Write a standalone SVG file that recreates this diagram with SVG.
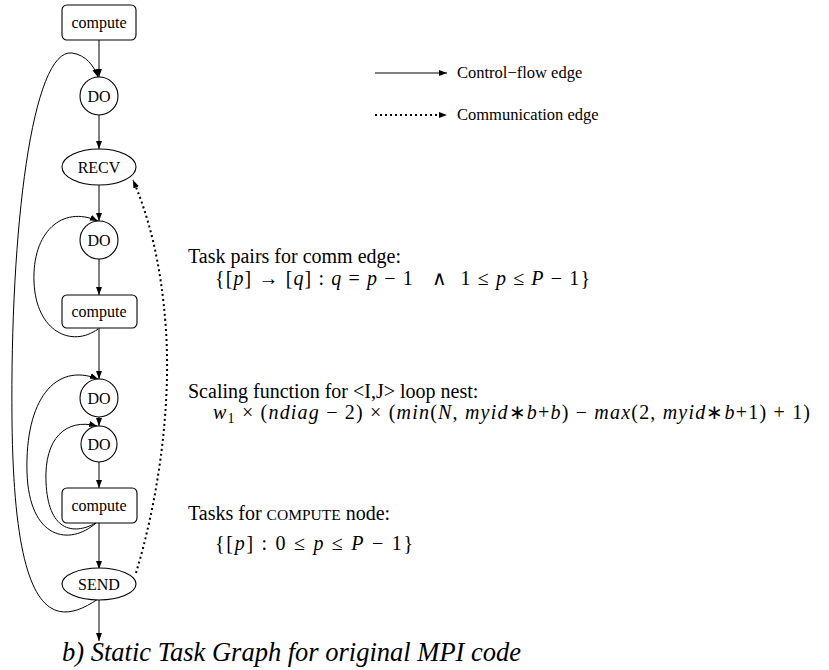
<svg xmlns="http://www.w3.org/2000/svg" width="829" height="670" viewBox="0 0 829 670">
<style>
  .node { fill: #fff; stroke: #000; stroke-width: 1.1; }
  .lbl { font-family: "Liberation Serif", "Times New Roman", serif; font-size: 16px; fill: #000; text-anchor: middle; }
  .edge { fill: none; stroke: #000; stroke-width: 1; }
  .comm { fill: none; stroke: #000; stroke-width: 2; stroke-dasharray: 2 3; }
  .txt { font-family: "Liberation Serif", "Times New Roman", serif; font-size: 20px; fill: #000; }
  .leg { font-family: "Liberation Serif", "Times New Roman", serif; font-size: 16.5px; fill: #000; }
  .i { font-style: italic; }
  .cap { font-family: "Liberation Serif", "Times New Roman", serif; font-size: 26.5px; font-style: italic; fill: #000; }
</style>
<defs>
  <marker id="ah" markerUnits="userSpaceOnUse" markerWidth="10" markerHeight="8" refX="8" refY="4" orient="auto">
    <path d="M0,1 L8,4 L0,7 Z" fill="#000"/>
  </marker>
</defs>

<g id="connectors">
  <line class="edge" x1="99" y1="40" x2="99" y2="77" marker-end="url(#ah)"/>
  <line class="edge" x1="99" y1="115" x2="99" y2="149" marker-end="url(#ah)"/>
  <line class="edge" x1="99" y1="185" x2="99" y2="221" marker-end="url(#ah)"/>
  <line class="edge" x1="99" y1="259" x2="99" y2="295" marker-end="url(#ah)"/>
  <line class="edge" x1="99" y1="328" x2="99" y2="379" marker-end="url(#ah)"/>
  <line class="edge" x1="99" y1="417" x2="99" y2="426" marker-end="url(#ah)"/>
  <line class="edge" x1="99" y1="462" x2="99" y2="488" marker-end="url(#ah)"/>
  <line class="edge" x1="99" y1="523" x2="99" y2="569" marker-end="url(#ah)"/>
  <line class="edge" x1="99" y1="600" x2="99" y2="641" marker-end="url(#ah)"/>
  <path class="edge" d="M98,599 C50,632 14,612 12,420 C10,230 32,48 72,53 C86,55 94,66 98,77" marker-end="url(#ah)"/>
  <path class="edge" d="M98,329 C72,348 36,332 34,282 C32,232 62,205 98,221" marker-end="url(#ah)"/>
  <path class="edge" d="M96,523 C70,546 29,540 27,472 C25,400 55,362 98,379" marker-end="url(#ah)"/>
  <path class="edge" d="M96,523 C72,536 48,530 46,482 C44,438 66,418 97,426" marker-end="url(#ah)"/>
  <path class="comm" d="M136,573 C158,500 171,410 166,330 C161,260 148,215 133,180" marker-end="url(#ah)"/>
</g>

<g id="n_compute1"><rect class="node" x="62" y="5" width="74" height="35" rx="5"/><text class="lbl" x="99" y="28">compute</text></g>
<g id="n_do1"><circle class="node" cx="99" cy="96" r="19"/><text class="lbl" x="99" y="102">DO</text></g>
<g id="n_recv"><ellipse class="node" cx="99" cy="167" rx="37" ry="18"/><text class="lbl" x="99" y="173">RECV</text></g>
<g id="n_do2"><circle class="node" cx="99" cy="240" r="19"/><text class="lbl" x="99" y="246">DO</text></g>
<g id="n_compute2"><rect class="node" x="62" y="295" width="75" height="33" rx="5"/><text class="lbl" x="99" y="317">compute</text></g>
<g id="n_do3"><circle class="node" cx="99" cy="398" r="19"/><text class="lbl" x="99" y="404">DO</text></g>
<g id="n_do4"><circle class="node" cx="99" cy="444" r="18"/><text class="lbl" x="99" y="450">DO</text></g>
<g id="n_compute3"><rect class="node" x="62" y="488" width="75" height="35" rx="5"/><text class="lbl" x="99" y="511">compute</text></g>
<g id="n_send"><ellipse class="node" cx="99" cy="584" rx="37" ry="16"/><text class="lbl" x="99" y="590">SEND</text></g>

<g id="legend">
  <line class="edge" x1="375" y1="73" x2="447" y2="73" marker-end="url(#ah)"/>
  <text class="leg" x="457" y="78">Control−flow edge</text>
  <line class="comm" x1="375" y1="115" x2="441" y2="115"/>
  <path d="M439,112 L447,115 L439,118 Z" fill="#000"/>
  <text class="leg" x="457" y="120">Communication edge</text>
</g>

<g id="annotations">
  <text class="txt" x="188" y="263">Task pairs for comm edge:</text>
  <text class="txt" x="215" y="285" textLength="375" lengthAdjust="spacing">{[<tspan class="i">p</tspan>] → [<tspan class="i">q</tspan>] : <tspan class="i">q</tspan> = <tspan class="i">p</tspan> − 1 &#160; ∧ &#160;1 ≤ <tspan class="i">p</tspan> ≤ <tspan class="i">P</tspan> − 1}</text>

  <text class="txt" x="188" y="398">Scaling function for &lt;I,J&gt; loop nest:</text>
  <text class="txt" x="213" y="419" textLength="597" lengthAdjust="spacing"><tspan class="i">w</tspan><tspan font-size="14" dy="4">1</tspan><tspan dy="-4"> × (</tspan><tspan class="i">ndiag</tspan> − 2) × (<tspan class="i">min</tspan>(<tspan class="i">N</tspan>, <tspan class="i">myid</tspan>∗<tspan class="i">b</tspan>+<tspan class="i">b</tspan>) − <tspan class="i">max</tspan>(2, <tspan class="i">myid</tspan>∗<tspan class="i">b</tspan>+1) + 1)</text>

  <text class="txt" x="188" y="520">Tasks for <tspan font-size="15.5">COMPUTE</tspan> node:</text>
  <text class="txt" x="215" y="550" textLength="198" lengthAdjust="spacing">{[<tspan class="i">p</tspan>] : 0 ≤ <tspan class="i">p</tspan> ≤ <tspan class="i">P</tspan> − 1}</text>
</g>

<text class="cap" x="62" y="661">b) Static Task Graph for original MPI code</text>
</svg>
